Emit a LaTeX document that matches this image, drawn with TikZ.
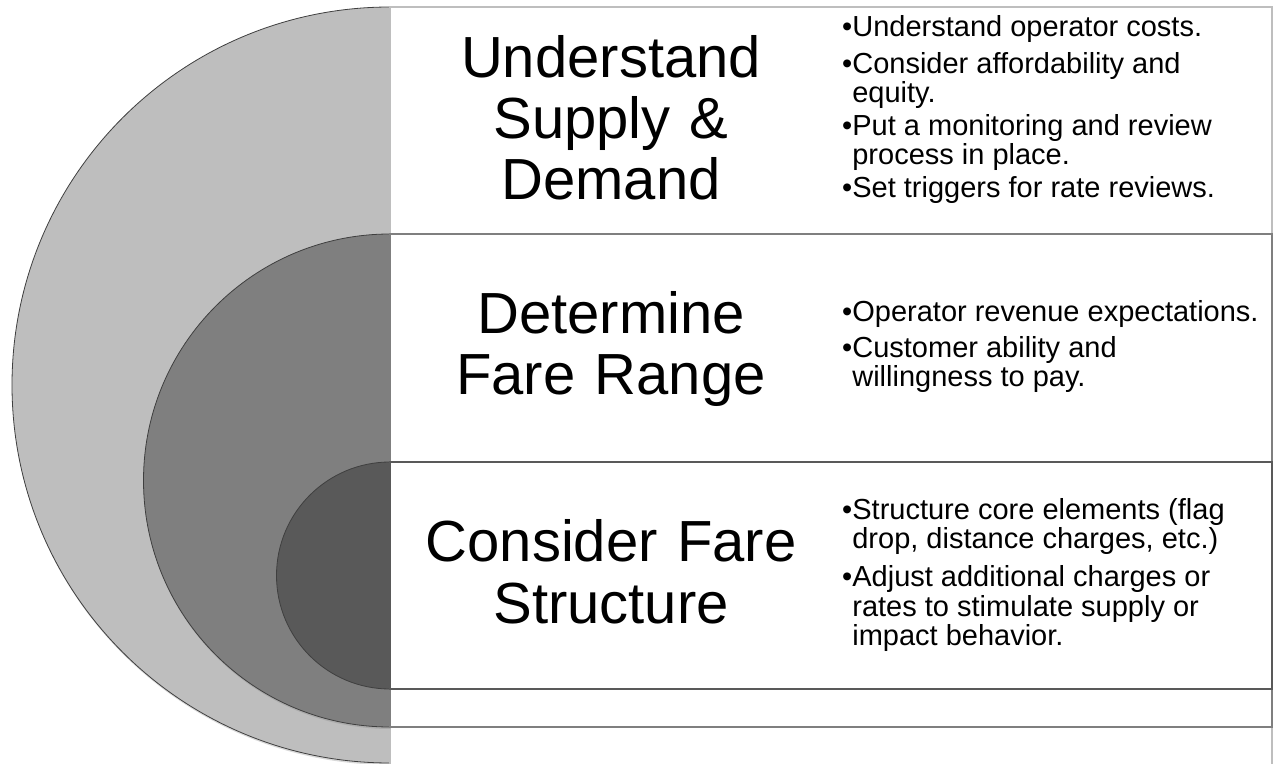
\documentclass[tikz,border=0pt]{standalone}
\usepackage{fontspec}
\setmainfont{Liberation Sans}
\usepackage{tikz}
\usetikzlibrary{positioning, shadows}
\usepackage{xcolor}
\definecolor{ringlight}{HTML}{BEBEBE}
\definecolor{ringmid}{HTML}{7F7F7F}
\definecolor{ringdark}{HTML}{595959}
\definecolor{ringedge}{HTML}{3F3F3F}
\newcommand{\fareitem}[1]{\textbullet\parbox[t]{420pt}{#1}}

\begin{document}
\begin{tikzpicture}[x=1pt, y=1pt,
    ring/.style={fill=#1, drop shadow={shadow xshift=0.5pt, shadow yshift=-2pt,
                 opacity=0.3}},
    rim/.style={draw=ringedge, line width=0.8pt},
    band/.style={draw=#1, line width=1.5pt, fill=white},
    stage/.style={font=\fontsize{58}{61}\selectfont, text width=420pt,
                  align=center, inner sep=0pt, anchor=base},
    factline/.style={font=\fontsize{29}{#1}\selectfont, inner sep=0pt,
                     anchor=base west}
  ]
    \useasboundingbox (0,0) rectangle (1273,763);

    % outer ring
    \fill[ring=ringlight] (390,756) arc[start angle=90, end angle=270, radius=378] -- cycle;
    \draw[rim] (390,756) arc[start angle=90, end angle=270, radius=378];
    \draw[band=ringlight] (390,-5) rectangle (1272,756);

    % middle ring
    \fill[ring=ringmid] (390,529) arc[start angle=90, end angle=270, radius=246.5] -- cycle;
    \draw[rim] (390,529) arc[start angle=90, end angle=270, radius=246.5];
    \draw[band=ringmid] (390,36) rectangle (1272,529);

    % inner ring
    \fill[ring=ringdark] (390,301) arc[start angle=90, end angle=270, radius=113.5] -- cycle;
    \draw[rim] (390,301) arc[start angle=90, end angle=270, radius=113.5];
    \draw[band=ringdark] (390,74) rectangle (1272,301);

    % stage titles
    \node[stage] (supply) at (611, 685) {Understand\\Supply \&\\Demand};
    \node[stage] (range) at (611, 429) {Determine\\Fare Range};
    \node[stage] (structure) at (611, 201) {Consider Fare\\Structure};

    % points of the first stage
    \node[factline=26] (costs) at (842, 726) {\fareitem{Understand operator costs.}};
    \node[factline=26] (equity) at (842, 689)
      {\fareitem{Consider affordability and\newline equity.}};
    \node[factline=26] (monitor) at (842, 627)
      {\fareitem{Put a monitoring and review\newline process in place.}};
    \node[factline=26] (triggers) at (842, 565) {\fareitem{Set triggers for rate reviews.}};

    % points of the second stage
    \node[factline=29] (revenue) at (842, 441) {\fareitem{Operator revenue expectations.}};
    \node[factline=29] (ability) at (842, 405)
      {\fareitem{Customer ability and\newline willingness to pay.}};

    % points of the third stage
    \node[factline=29] (core) at (842, 243)
      {\fareitem{Structure core elements (flag\newline drop, distance charges, etc.)}};
    \node[factline=29] (adjust) at (842, 176)
      {\fareitem{Adjust additional charges or\newline rates to stimulate supply or\newline
       impact behavior.}};
\end{tikzpicture}
\end{document}
